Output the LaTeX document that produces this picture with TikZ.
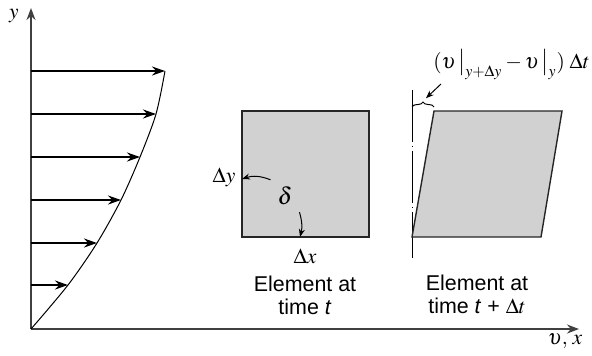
\documentclass[tikz,border=0pt]{standalone}
\usepackage{amsmath}
\usepackage{mathptmx}
\usepackage[no-math]{fontspec}
\setsansfont{Liberation Sans}
\usetikzlibrary{arrows.meta, decorations.pathreplacing, positioning}

\begin{document}
\begin{tikzpicture}[x=0.5pt, y=-0.5pt,
	axis/.style={draw=black!75, line width=0.9pt, -{Stealth[length=6pt,width=4.5pt]}},
	vel/.style={line width=1.3pt, -{Stealth[length=6.5pt,width=4.5pt]}},
	elem/.style={fill=black!18, draw=black!85, line width=0.7pt},
	thinarr/.style={line width=0.5pt, -{Stealth[length=4pt,width=3pt]}},
	lbl/.style={font=\fontsize{10.7}{11.5}\selectfont},
	caption/.style={font=\sffamily\fontsize{10.7}{11.5}\selectfont, align=center}]
	\useasboundingbox (0,0) rectangle (592,355);
	
	% 坐标轴
	\coordinate (O) at (31,329);
	\draw[axis] (O) -- (31,8);
	\draw[axis] (O) -- (579,329);
	\node[lbl] (ylab) at (14,16) {$y$};
	\node[lbl] (xlab) at (565,341) {$\upsilon,\,x$};
	
	% 速度剖面
	\draw[line width=0.5pt] plot[smooth] coordinates {(31,329) (68,285) (97,243) (121,200) (140,157) (156,114) (165,71)};
	\foreach \y/\u in {71/165, 114/156, 157/140, 200/121, 243/97, 285/68}
		\draw[vel] (31,\y) -- (\u,\y);
	
	% 时刻 t 的微元
	\draw[elem] (242,111) rectangle (369,237);
	\node[lbl, font=\fontsize{12}{13}\selectfont] (delta) at (285,196) {$\delta$};
	\node[lbl] (dy) at (224,177) {$\Delta y$};
	\node[lbl] (dx) at (305,256) {$\Delta x$};
	\coordinate (pL) at (242,179);
	\coordinate (pB) at (300,237);
	\draw[thinarr] (delta.north west) to[bend right=20] (pL);
	\draw[thinarr] (delta.south east) to[bend left=15] (pB);
	\node[caption] (cap1) at (305,295) {Element at\\time \textit{t}};
	
	% 时刻 t+Δt 的微元
	\draw[line width=0.45pt, dash pattern=on 26pt off 2pt on 0.4pt off 2pt] (412,90) -- (412,258);
	\draw[elem] (412,237) -- (434,111) -- (562,111) -- (541,237) -- cycle;
	\draw[line width=0.5pt, decorate, decoration={brace, amplitude=2.5pt}] (412,107) -- (434,107);
	\coordinate (tip) at (423,101);
	\node[lbl, anchor=south west, inner sep=1pt] (shift) at (431,82) {$(\upsilon\,\big|_{y+\Delta y}-\upsilon\,\big|_{y})\;\Delta t$};
	\coordinate (s0) at (441,84);
	\draw[thinarr, shorten >=2pt] (s0) -- (tip);
	\node[caption] (cap2) at (477,294) {Element at\\time \textit{t} + $\Delta t$};
\end{tikzpicture}
\end{document}
